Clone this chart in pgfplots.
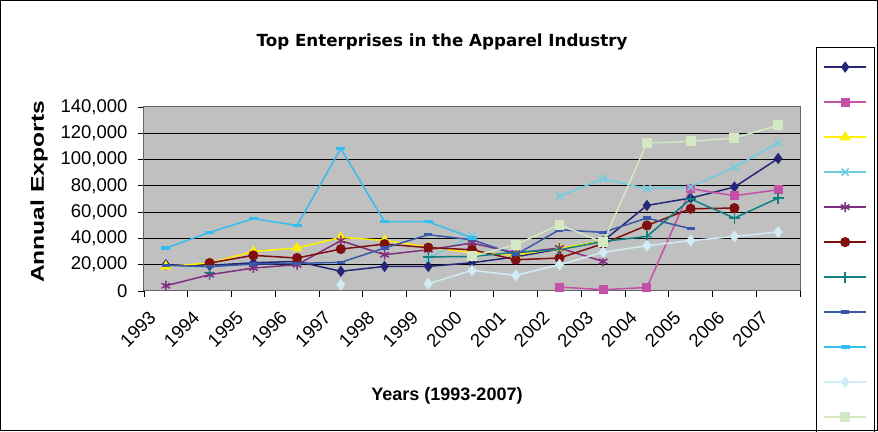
\documentclass[border=0pt]{standalone}
\usepackage{fontspec}
\setmainfont{Liberation Sans}
\newfontfamily\titlefont{DejaVu Sans}
\newfontfamily\ylabfont[FakeStretch=1.33]{Liberation Sans}
\usepackage{pgfplots}
\pgfplotsset{compat=1.18}
\usepackage{pgfplotstable}

\definecolor{c1}{RGB}{38,38,120}
\definecolor{c2}{RGB}{196,80,168}
\definecolor{c3}{RGB}{255,240,0}
\definecolor{c4}{RGB}{110,206,224}
\definecolor{c5}{RGB}{128,48,128}
\definecolor{c6}{RGB}{128,16,16}
\definecolor{c7}{RGB}{16,128,128}
\definecolor{c8}{RGB}{58,88,170}
\definecolor{c9}{RGB}{51,190,240}
\definecolor{c10}{RGB}{208,236,244}
\definecolor{c11}{RGB}{212,232,196}
\definecolor{bgray}{RGB}{192,192,192}

\pgfplotstableread{
x s1 s2 s3 s4 s5 s6 s7 s8 s9 s10 s11
0 20000 nan 18700 nan 4000 nan nan 19500 32700 nan nan
1 19500 nan 21300 nan 12400 21300 14200 18500 44600 nan nan
2 21500 nan 30100 nan 17500 27100 nan 20500 55000 nan nan
3 22500 nan 32700 nan 20000 25100 nan 21000 49900 nan nan
4 15000 nan 40800 nan 38300 31900 nan 21800 108400 4800 nan
5 18700 nan 38500 nan 27600 35700 nan 32700 52700 nan nan
6 18700 nan 33500 25000 31400 33000 25900 42800 52700 5500 nan
7 21500 nan 29000 42000 36500 31400 26300 39000 40500 15700 26300
8 26000 nan 27500 nan 28900 23800 29400 27600 nan 11900 35200
9 32000 3000 32500 72000 32700 25100 31400 46600 nan 20000 50400
10 38000 1000 38000 85400 22500 36000 37700 44600 nan 29400 37000
11 65100 2700 nan 77800 nan 49900 41500 55500 nan 34500 112600
12 70700 77800 nan 79100 nan 62600 70000 47400 nan 38300 113800
13 79100 72500 nan 94300 nan 63100 55500 nan nan 41500 116400
14 100800 77000 nan 112600 nan nan 70700 nan nan 44900 126000
}\data

\begin{document}
\begin{tikzpicture}
\begin{axis}[
  at={(144pt,140pt)}, anchor=south west,
  scale only axis, width=656pt, height=184pt,
  xmin=-0.5, xmax=14.5, ymin=0, ymax=140000,
  ytick={0,20000,...,140000},
  xtick={0,...,14},
  xticklabels={1993,1994,1995,1996,1997,1998,1999,2000,2001,2002,2003,2004,2005,2006,2007},
  minor xtick={-0.5,0.5,...,14.5},
  major x tick style={draw=none},
  tick align=outside, tick pos=left,
  major tick length=6pt, minor tick length=6pt,
  tick style={black, line width=0.8pt},
  ymajorgrids, major grid style={black, line width=1pt},
  axis background/.style={fill=bgray},
  axis line style={black!60, line width=1pt},
  scaled y ticks=false,
  ticklabel style={font=\fontsize{18.5}{18.5}\selectfont},
  yticklabel style={xshift=-7pt, /pgf/number format/.cd, fixed, 1000 sep={,}, assume math mode=true},
  xticklabel style={xshift=-18pt, yshift=-8pt, rotate=45, anchor=north east},
  unbounded coords=jump,
  title={Top Enterprises in the Apparel Industry},
  title style={at={(axis description cs:0.4543,1.3207)}, anchor=center, font=\titlefont\bfseries\fontsize{16.7}{16.7}\selectfont},
  ylabel={Annual Exports},
  ylabel style={at={(axis description cs:-0.16,0.538)}, anchor=center, font=\ylabfont\bfseries\fontsize{18.5}{18.5}\selectfont},
  xlabel={Years (1993-2007)},
  xlabel style={at={(axis description cs:0.4619,-0.5707)}, anchor=center, font=\bfseries\fontsize{18}{18}\selectfont},
  legend image code/.code={\draw[mark repeat=2,mark phase=2] plot coordinates {(0pt,0pt)(21pt,0pt)(42pt,0pt)};},
  legend style={at={(axis description cs:1.0244,1.3277)}, anchor=north west, draw=black, line width=0.8pt, fill=white,
    inner xsep=7pt, inner ysep=2.5pt, nodes={inner sep=0pt, minimum height=35pt, minimum width=0pt},
    /tikz/column sep=0pt, row sep=0pt},
  every axis plot/.append style={line width=1.5pt},
]
\addplot[c1, mark=diamond*, mark size=4.5pt, mark options={solid, fill=c1}] table[x=x,y=s1] {\data}; \addlegendentry{}
\addplot[c2, mark=square*, mark size=3.8pt, mark options={solid, fill=c2}] table[x=x,y=s2] {\data}; \addlegendentry{}
\addplot[c3, mark=triangle*, mark size=4.8pt, mark options={solid, fill=c3}] table[x=x,y=s3] {\data}; \addlegendentry{}
\addplot[c4, mark=x, mark size=5pt, mark options={solid}] table[x=x,y=s4] {\data}; \addlegendentry{}
\addplot[c5, mark=asterisk, mark size=5pt, mark options={solid}] table[x=x,y=s5] {\data}; \addlegendentry{}
\addplot[c6, mark=*, mark size=4.3pt, mark options={solid, fill=c6}] table[x=x,y=s6] {\data}; \addlegendentry{}
\addplot[c7, mark=+, mark size=5.5pt, mark options={solid}] table[x=x,y=s7] {\data}; \addlegendentry{}
\addplot[c8, mark=-, mark size=4pt, mark options={solid, line width=3.5pt}] table[x=x,y=s8] {\data}; \addlegendentry{}
\addplot[c9, mark=-, mark size=4.5pt, mark options={solid, line width=3.5pt}] table[x=x,y=s9] {\data}; \addlegendentry{}
\addplot[c10, mark=diamond*, mark size=4.8pt, mark options={solid, fill=c10}] table[x=x,y=s10] {\data}; \addlegendentry{}
\addplot[c11, mark=square*, mark size=4.2pt, mark options={solid, fill=c11}] table[x=x,y=s11] {\data}; \addlegendentry{}
\end{axis}
\pgfresetboundingbox
\useasboundingbox (0,0) rectangle (878pt,431pt);
\draw[black, line width=1pt] (0.5pt,0.5pt) rectangle (877.5pt,430.5pt);
\end{tikzpicture}
\end{document}
